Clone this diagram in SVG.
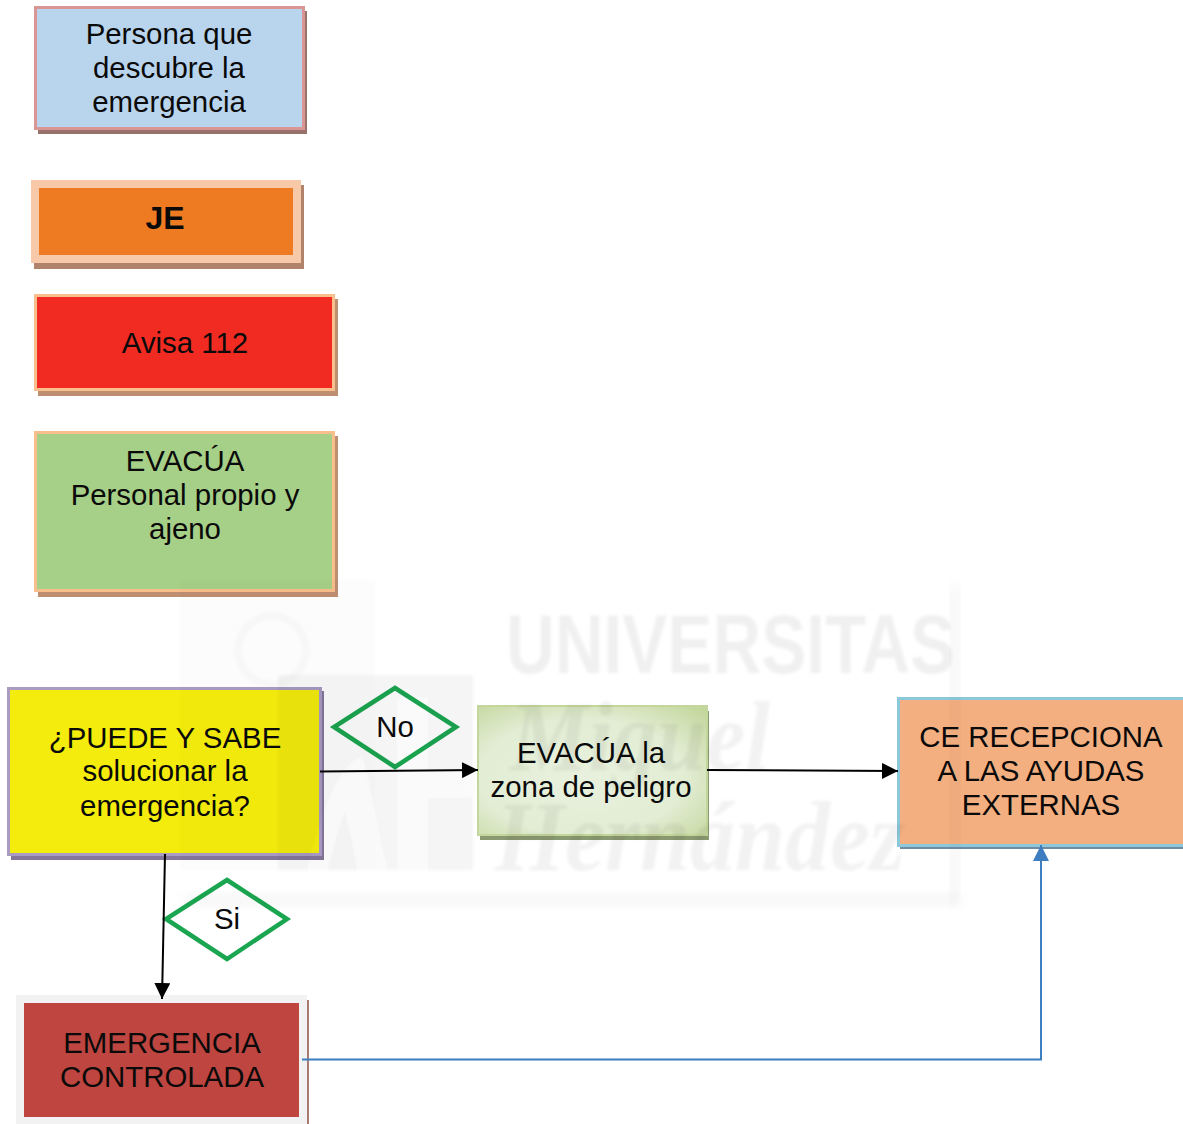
<svg xmlns="http://www.w3.org/2000/svg" width="1183" height="1124" viewBox="0 0 1183 1124">
<style>
text{font-family:"Liberation Sans",Arial,sans-serif;font-size:29.400px;fill:#0a0a0a;text-anchor:middle}
.b{font-weight:bold;font-size:32px}
.c{fill:none;stroke:#000;stroke-width:2}
.d{fill:#fff;stroke:#1aa650;stroke-width:4.500;stroke-linejoin:miter}
.wt{font-family:"Liberation Serif",serif;font-style:italic;font-weight:bold;font-size:100px;fill:#000;fill-opacity:.05;text-anchor:start}
</style>
<defs>
<marker id="ak" markerUnits="userSpaceOnUse" markerWidth="16" markerHeight="16" refX="16" refY="8" orient="auto"><path d="M0 0L16 8L0 16Z" fill="#000"/></marker>
<marker id="ab" markerUnits="userSpaceOnUse" markerWidth="16" markerHeight="16" refX="16" refY="8" orient="auto"><path d="M0 0L16 8L0 16Z" fill="#3d7dc0"/></marker>
<radialGradient id="gr" cx=".45" cy=".55" r=".75"><stop offset="0" stop-color="#e9f1de"/><stop offset=".6" stop-color="#e2edd4"/><stop offset="1" stop-color="#c3d69b"/></radialGradient>
<filter id="bl"><feGaussianBlur stdDeviation="6"/></filter>
<filter id="sf"><feGaussianBlur stdDeviation="1.5"/></filter>
</defs>
<rect width="1183" height="1124" fill="#fff"/>
<g id="n1"><rect x="38" y="11" width="269" height="123" fill="#98726a"/><rect x="35.500" y="7.500" width="268" height="121" fill="#b9d4ed" stroke="#d99694" stroke-width="3"/><text x="169" y="44">Persona que</text><text x="169" y="78">descubre la</text><text x="169" y="112">emergencia</text></g>
<g id="n2"><rect x="34" y="185" width="270" height="84" fill="#b0836a"/><rect x="31" y="180" width="270" height="83" fill="#f7c9a8"/><rect x="39" y="188" width="254" height="67" fill="#ee7a22"/><text class="b" x="165" y="229">JE</text></g>
<g id="n3"><rect x="38" y="299" width="300" height="97" fill="#bd8e70"/><rect x="35.500" y="295.500" width="298" height="94" fill="#f22b22" stroke="#f8be8c" stroke-width="3"/><text x="185" y="353">Avisa 112</text></g>
<g id="n4"><rect x="38" y="436" width="300" height="161" fill="#bd8e70"/><rect x="35.500" y="432.500" width="298" height="158" fill="#a6cf87" stroke="#f8be8c" stroke-width="3"/><text x="185" y="471">EVACÚA</text><text x="185" y="505">Personal propio y</text><text x="185" y="539">ajeno</text></g>
<g id="n5"><rect x="11" y="691" width="313" height="169" fill="#85769a"/><rect x="8.500" y="688.500" width="312" height="166" fill="#f4ec0c" stroke="#a99bc4" stroke-width="3"/><text x="165" y="748">¿PUEDE Y SABE</text><text x="165" y="781">solucionar la</text><text x="165" y="816">emergencia?</text></g>
<g id="n6"><rect x="480" y="711" width="229" height="129" fill="#8a9a70"/><rect x="478" y="706" width="229" height="129" fill="url(#gr)" stroke="#c3d69b" stroke-width="2"/><text x="591" y="763">EVACÚA la</text><text x="591" y="797">zona de peligro</text></g>
<g id="n7"><rect x="900" y="700" width="283" height="149" fill="#6f8ca4"/><rect x="898.500" y="698.500" width="290" height="147" fill="#f4af80" stroke="#8cc8dc" stroke-width="3"/><text x="1041" y="747">CE RECEPCIONA</text><text x="1041" y="781">A LAS AYUDAS</text><text x="1041" y="815">EXTERNAS</text></g>
<g id="n8"><rect x="307" y="1000" width="2" height="124" fill="#a87a74"/><rect x="16" y="995" width="291" height="129" fill="#f2f2f2"/><rect x="24" y="1003" width="275" height="114" fill="#be4540"/><text x="162" y="1053">EMERGENCIA</text><text x="162" y="1087">CONTROLADA</text></g>
<g id="n9"><polygon class="d" points="395,688 456,727 395,767 334,727"/><text x="395" y="737">No</text></g>
<g id="n10"><polygon class="d" points="227,880 287,919 227,959 166,919"/><text x="227" y="929">Si</text></g>
<g id="connectors">
<path class="c" d="M320 771.500L478 770" marker-end="url(#ak)"/>
<path class="c" d="M707 770L898 771" marker-end="url(#ak)"/>
<path class="c" d="M165 854L162 999" marker-end="url(#ak)"/>
<path d="M302 1059.500H1041V845" fill="none" stroke="#3d7dc0" stroke-width="2" marker-end="url(#ab)"/>
</g>
<g id="watermark" style="mix-blend-mode:multiply">
<rect x="185" y="893" width="775" height="14" fill="#000" fill-opacity=".03" filter="url(#bl)"/>
<rect x="950" y="585" width="10" height="320" fill="#000" fill-opacity=".04" filter="url(#bl)"/>
<g filter="url(#sf)">
<rect x="180" y="580" width="195" height="290" fill="#000" fill-opacity=".012"/>
<rect x="278" y="675" width="195" height="195" fill="#000" fill-opacity=".04"/>
<path d="M310 870C330 790 345 770 360 760C370 790 375 840 385 870H360C355 840 350 815 345 805C335 825 330 850 325 870Z" fill="#fff" fill-opacity=".5"/>
<path d="M400 700H425V870H400ZM425 775H470V795H425Z" fill="#fff" fill-opacity=".45"/>
<circle cx="272" cy="650" r="34" fill="none" stroke="#000" stroke-opacity=".025" stroke-width="8"/>
<text x="506" y="673" style="font-weight:bold;font-size:84px;text-anchor:start;fill:#000;fill-opacity:.06" textLength="449" lengthAdjust="spacingAndGlyphs">UNIVERSITAS</text>
<text class="wt" x="510" y="770" textLength="260" lengthAdjust="spacingAndGlyphs">Miguel</text>
<text class="wt" x="495" y="870" textLength="410" lengthAdjust="spacingAndGlyphs">Hernández</text>
</g>
</g>
</svg>
